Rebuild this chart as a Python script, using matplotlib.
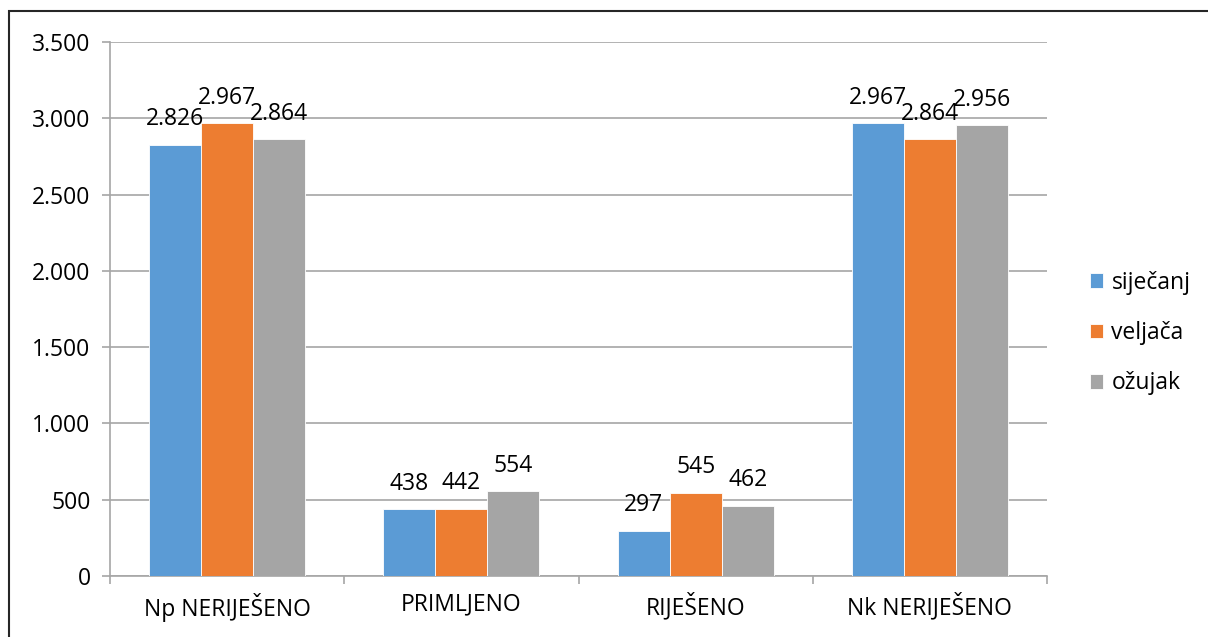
import numpy as np
import matplotlib.pyplot as plt
from matplotlib.patches import Rectangle

# podaci
kategorije = ['Np NERIJEŠENO', 'PRIMLJENO', 'RIJEŠENO', 'Nk NERIJEŠENO']
mjeseci = ['siječanj', 'veljača', 'ožujak']
sijecanj = [2826, 438, 297, 2967]
veljaca = [2967, 442, 545, 2864]
ozujak = [2864, 554, 462, 2956]
boje = ['#5b9bd5', '#ed7d31', '#a5a5a5']

plt.rcParams['font.family'] = ['Open Sans', 'DejaVu Sans']
fs = 16.5

W, H = 1208, 637
fig = plt.figure(figsize=(W / 100, H / 100), dpi=100)
ax = fig.add_axes([110 / W, 1 - 576 / H, (1047 - 110) / W, (576 - 42) / H])

# okvir oko cijelog grafikona
fig.patches.append(Rectangle((9 / W, -0.1), 1.2, 1 - 11 / H + 0.1, transform=fig.transFigure,
                             fill=False, edgecolor='#262626', linewidth=1.5))

x = np.arange(len(kategorije))
sirina = 0.222
for i, (vrijednosti, ime) in enumerate(zip([sijecanj, veljaca, ozujak], mjeseci)):
    pos = x + (i - 1) * sirina
    ax.bar(pos, vrijednosti, width=sirina, color=boje[i], label=ime,
           edgecolor='white', linewidth=0.6, zorder=3)
    for px, v in zip(pos, vrijednosti):
        ax.annotate(f'{v:,}'.replace(',', '.'), (px, v), xytext=(0, 14), textcoords='offset points',
                    ha='center', va='baseline', fontsize=fs, color='black', zorder=4)

ax.set_xlim(-0.5, 3.5)
ax.set_ylim(0, 3500)
ax.set_yticks(np.arange(0, 3501, 500))
ax.set_yticklabels([f'{v:,}'.replace(',', '.') for v in range(0, 3501, 500)], fontsize=fs)
ax.yaxis.grid(True, color='#a6a6a6', linewidth=1.2, zorder=0)
ax.tick_params(axis='y', length=6, color='#a6a6a6', width=1.2, pad=8)

# x os: kvacice na granicama kategorija
ax.set_xticks(np.arange(-0.5, 4, 1))
ax.set_xticklabels([])
ax.set_xticks(x, minor=True)
ax.set_xticklabels(kategorije, minor=True, fontsize=fs)
ax.tick_params(axis='x', which='major', length=6, color='#a6a6a6', width=1.2)
ax.tick_params(axis='x', which='minor', length=0, pad=12)

for s in ['top', 'right']:
    ax.spines[s].set_visible(False)
for s in ['left', 'bottom']:
    ax.spines[s].set_color('#a6a6a6')
    ax.spines[s].set_linewidth(1.2)

fig.legend(loc='upper left', bbox_to_anchor=(1069 / W, 1 - 250 / H), frameon=False,
           fontsize=fs, handlelength=0.6, handleheight=0.6, handletextpad=0.35,
           labelspacing=1.15)

fig.savefig('out.png', dpi=100)
